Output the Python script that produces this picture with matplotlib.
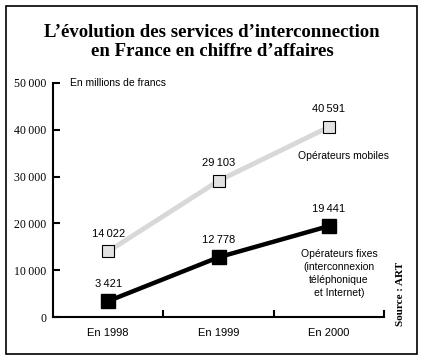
import matplotlib
matplotlib.use('Agg')
import matplotlib.pyplot as plt
from matplotlib.patches import Rectangle

# data
years = ['En 1998', 'En 1999', 'En 2000']
mobiles = [14022, 29103, 40591]
fixes = [3421, 12778, 19441]
yticks = [0, 10000, 20000, 30000, 40000, 50000]
ytick_labels = ['0', '10\u2009000', '20\u2009000', '30\u2009000', '40\u2009000', '50\u2009000']

sans = ['Liberation Sans', 'DejaVu Sans']
serif = ['Liberation Serif', 'DejaVu Serif']

def fmt(v):
    s = str(v)
    return s[:-3] + '\u2009' + s[-3:]

fig = plt.figure(figsize=(4.24, 3.62), dpi=100)
fig.patches.append(Rectangle((6/424, 8/362), 411/424, 348/362, transform=fig.transFigure,
                             fill=False, edgecolor='black', linewidth=1.2))

fig.text(0.5, 0.884, 'L\u2019évolution des services d\u2019interconnection\nen France en chiffre d\u2019affaires',
         ha='center', va='center', family=serif, fontweight='bold', fontsize=13.5, linespacing=1.12)

ax = fig.add_axes([0.125, 0.124, 0.781, 0.647])
x = [0.5, 1.5, 2.5]
ax.plot(x, mobiles, color='#d8d8d8', lw=3.5, zorder=2)
ax.plot(x, mobiles, ls='none', marker='s', ms=8, mfc='#e2e2e2', mec='black', mew=0.8, zorder=3)
ax.plot(x, fixes, color='black', lw=3.2, zorder=2)
ax.plot(x, fixes, ls='none', marker='s', ms=9.5, mfc='black', mec='black', zorder=3)

for xi, v in zip(x, mobiles):
    ax.annotate(fmt(v), (xi, v), xytext=(0, 9), textcoords='offset points', ha='center', va='bottom',
                family=sans, fontsize=8)
for xi, v in zip(x, fixes):
    ax.annotate(fmt(v), (xi, v), xytext=(0, 9), textcoords='offset points', ha='center', va='bottom',
                family=sans, fontsize=8)

ax.set_xlim(0, 3)
ax.set_ylim(0, 50000)
ax.set_yticks(yticks)
ax.set_yticklabels(ytick_labels, family=serif, fontsize=8.5)
ax.set_xticks([1, 2, 3])
ax.set_xticklabels([])
ax.set_xticks(x, minor=True)
ax.set_xticklabels(years, minor=True, family=sans, fontsize=8)
ax.tick_params(axis='x', which='minor', length=0, pad=8)
ax.tick_params(axis='both', which='major', direction='in', length=5, width=1.5)
ax.tick_params(axis='y', pad=5)
for s in ['top', 'right']:
    ax.spines[s].set_visible(False)
for s in ['left', 'bottom']:
    ax.spines[s].set_linewidth(1.5)
ax.set_facecolor('none')

ax.text(0.05, 1.0, 'En millions de francs', transform=ax.transAxes, ha='left', va='center',
        family=sans, fontsize=7.5)
ax.text(2.63, 34500, 'Opérateurs mobiles', ha='center', va='center', family=sans, fontsize=7.5)
ax.text(2.59, 9300, 'Opérateurs fixes\n(interconnexion\ntéléphonique\net Internet)', ha='center',
        va='center', family=sans, fontsize=7.5, linespacing=1.35)

fig.text(0.945, 0.10, 'Source : ART', rotation=90, ha='center', va='bottom', family=serif,
         fontweight='bold', fontsize=8)

fig.savefig('out.png', dpi=100)
